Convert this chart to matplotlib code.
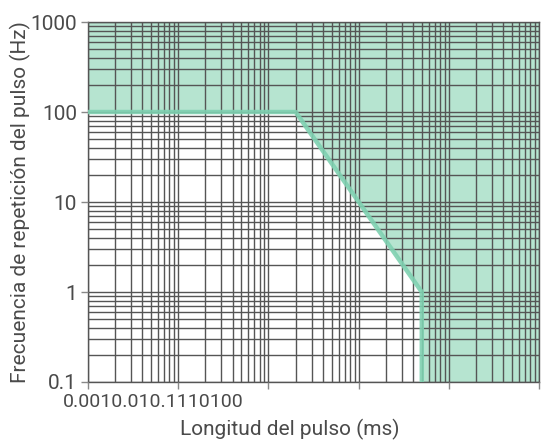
import matplotlib
matplotlib.use('Agg')
import matplotlib.pyplot as plt
from matplotlib.ticker import NullFormatter

plt.rcParams['font.family'] = ['Roboto', 'DejaVu Sans']

# limite: longitud del pulso (ms) vs frecuencia (Hz)
limit_x = [0.001, 0.2, 5, 5]
limit_y = [100, 100, 1, 0.1]

x_ticks = [0.001, 0.01, 0.1, 1, 10, 100]
x_labels = ['0.001', '0.01', '0.1', '1', '10', '100']
y_ticks = [0.1, 1, 10, 100, 1000]
y_labels = ['0.1', '1', '10', '100', '1000']

line_col = '#7fd1b1'
fill_col = '#b6e4d0'
grid_col = '#555555'
text_col = '#4a4a4a'

fig = plt.figure(figsize=(5.43, 4.43), dpi=100)
ax = fig.add_axes([0.162, 0.1377, 0.831, 0.8126])
ax.set_xscale('log')
ax.set_yscale('log')
ax.set_xlim(0.001, 100)
ax.set_ylim(0.1, 1000)

# zona verde por encima del limite
fill_x = limit_x + [100]
fill_y = limit_y + [0.1]
ax.fill_between(fill_x, fill_y, 1000, color=fill_col, lw=0, zorder=1)

ax.grid(which='both', color=grid_col, lw=1, zorder=2)
ax.set_axisbelow(False)
ax.plot(limit_x, limit_y, color=line_col, lw=3.2, alpha=0.9, solid_capstyle='butt', zorder=4)
for s in ax.spines.values():
    s.set_color(grid_col)
    s.set_linewidth(1)

ax.set_yticks(y_ticks)
ax.set_yticklabels(y_labels)
ax.set_xticks(x_ticks)
ax.set_xticklabels([''] * len(x_ticks))
ax.xaxis.set_minor_formatter(NullFormatter())
ax.yaxis.set_minor_formatter(NullFormatter())
ax.tick_params(which='major', length=5, width=1, color='#888888', labelsize=15,
               labelcolor=text_col, pad=3)
ax.tick_params(which='minor', length=0)

# etiquetas del eje x pegadas unas a otras (como en el original)
renderer = fig.canvas.get_renderer()
probe = fig.text(0, 0, x_labels[0], fontsize=14)
half_w = probe.get_window_extent(renderer).width / 2 * 72 / fig.dpi
probe.remove()
ax.annotate(''.join(x_labels), xy=(x_ticks[0], 0), xycoords=('data', 'axes fraction'),
            xytext=(-half_w, -8), textcoords='offset points', ha='left', va='top',
            fontsize=14, color=text_col)

fig.text(0.534, 0.03, 'Longitud del pulso (ms)', ha='center', va='center',
         fontsize=15, color=text_col)
fig.text(0.037, 0.543, 'Frecuencia de repetición del pulso (Hz)', ha='center', va='center',
         rotation=90, fontsize=15, color=text_col)

fig.savefig('out.png', dpi=100)
